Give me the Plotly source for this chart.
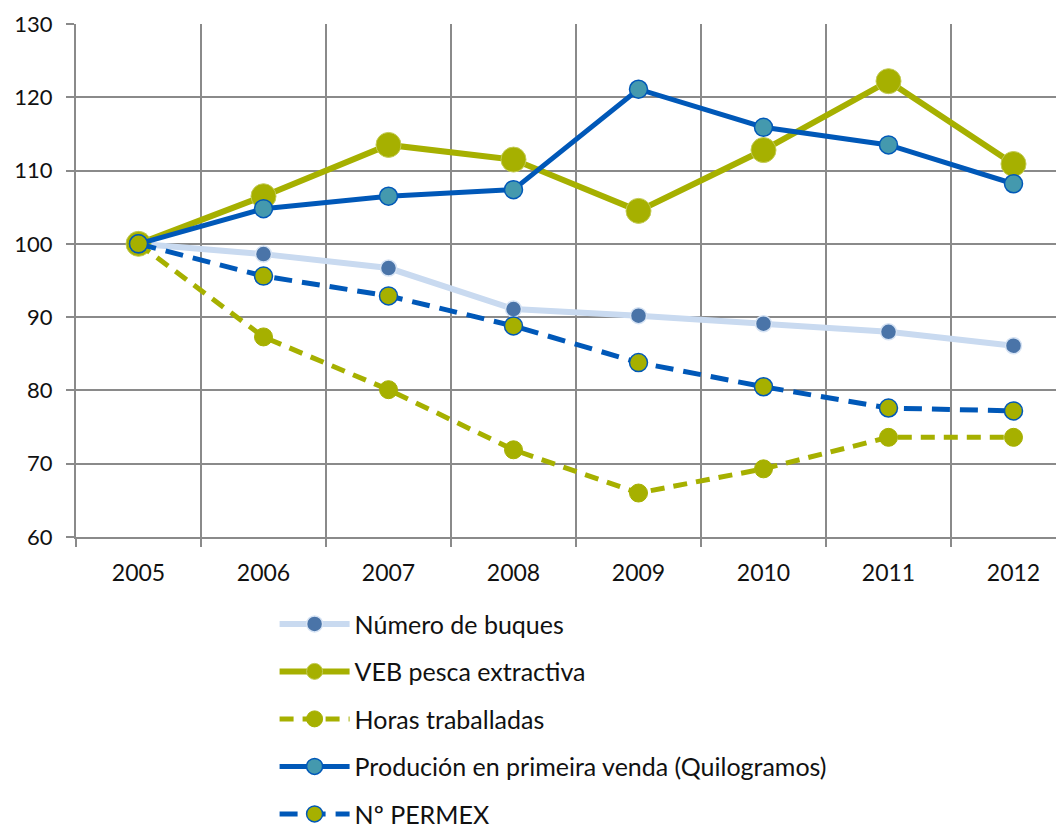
import plotly.graph_objects as go

years = ["2005", "2006", "2007", "2008", "2009", "2010", "2011", "2012"]

numero_buques = [100, 98.6, 96.7, 91.1, 90.2, 89.1, 88.0, 86.1]
veb_pesca = [100, 106.5, 113.5, 111.5, 104.5, 112.8, 122.2, 110.9]
horas_traballadas = [100, 87.3, 80.1, 71.9, 66.0, 69.3, 73.6, 73.6]
producion = [100, 104.8, 106.5, 107.4, 121.1, 115.9, 113.5, 108.2]
permex = [100, 95.6, 92.9, 88.8, 83.8, 80.5, 77.6, 77.2]

OLIVE = "#a6b000"
BLUE = "#0058b8"
GRID = "#8a8a8a"
FONT = "Lato"

xs = list(range(len(years)))

fig = go.Figure()

fig.add_trace(go.Scatter(
    x=xs, y=numero_buques, name="Número de buques", legendgroup="a",
    mode="lines+markers",
    line=dict(color="#c9daf0", width=6),
    marker=dict(color="#4a74a8", size=16, line=dict(color="#d6e3f4", width=1.5)),
))
fig.add_trace(go.Scatter(
    x=xs, y=veb_pesca, name="VEB pesca extractiva", legendgroup="b",
    mode="lines+markers",
    line=dict(color=OLIVE, width=6),
    marker=dict(color=OLIVE, size=25, line=dict(color="#c3cb55", width=1)),
))
fig.add_trace(go.Scatter(
    x=xs, y=horas_traballadas, name="Horas traballadas", legendgroup="c",
    mode="lines+markers",
    line=dict(color=OLIVE, width=5, dash="14px,9px"),
    marker=dict(color=OLIVE, size=18, line=dict(color=OLIVE, width=1)),
))
fig.add_trace(go.Scatter(
    x=xs, y=producion, name="Produción en primeira venda (Quilogramos)", legendgroup="d",
    mode="lines+markers",
    line=dict(color=BLUE, width=5),
    marker=dict(color="#4499ae", size=18, line=dict(color=BLUE, width=1.5)),
))
fig.add_trace(go.Scatter(
    x=xs, y=permex, name="Nº PERMEX", legendgroup="e",
    mode="lines+markers",
    line=dict(color=BLUE, width=5, dash="18px,10px"),
    marker=dict(color=OLIVE, size=18, line=dict(color=BLUE, width=1.5)),
))

# page body has an 8px margin; figure is taller than the window so the
# legend sits low like the original
fig.update_layout(
    width=1056, height=870,
    margin=dict(l=68, r=0, t=16, b=341),
    paper_bgcolor="white", plot_bgcolor="white",
    font=dict(family=FONT, size=23, color="#111111"),
    showlegend=True,
    legend=dict(
        x=0.201, y=-0.125, xanchor="left", yanchor="top",
        traceorder="grouped", tracegroupgap=12,
        itemwidth=70, font=dict(size=25),
        bgcolor="rgba(0,0,0,0)",
    ),
)

fig.update_xaxes(
    range=[-0.5, -0.5 + 988 / 125],
    tickvals=xs, ticktext=years, automargin=False,
    ticks="", showgrid=False, zeroline=False,
    showline=True, linecolor=GRID, linewidth=2,
    ticklabelstandoff=14,
    minor=dict(tickvals=[i - 0.5 for i in xs], showgrid=True,
               gridcolor=GRID, gridwidth=2,
               ticks="outside", ticklen=8, tickcolor=GRID, tickwidth=2),
)
fig.update_yaxes(
    range=[60, 130], dtick=10, automargin=False,
    showgrid=True, gridcolor=GRID, gridwidth=2,
    zeroline=False, showline=True, linecolor=GRID, linewidth=2,
    ticks="outside", ticklen=8, tickcolor=GRID, tickwidth=2,
    ticklabelstandoff=9, tickfont=dict(size=22),
)

fig.write_html("out.html")
